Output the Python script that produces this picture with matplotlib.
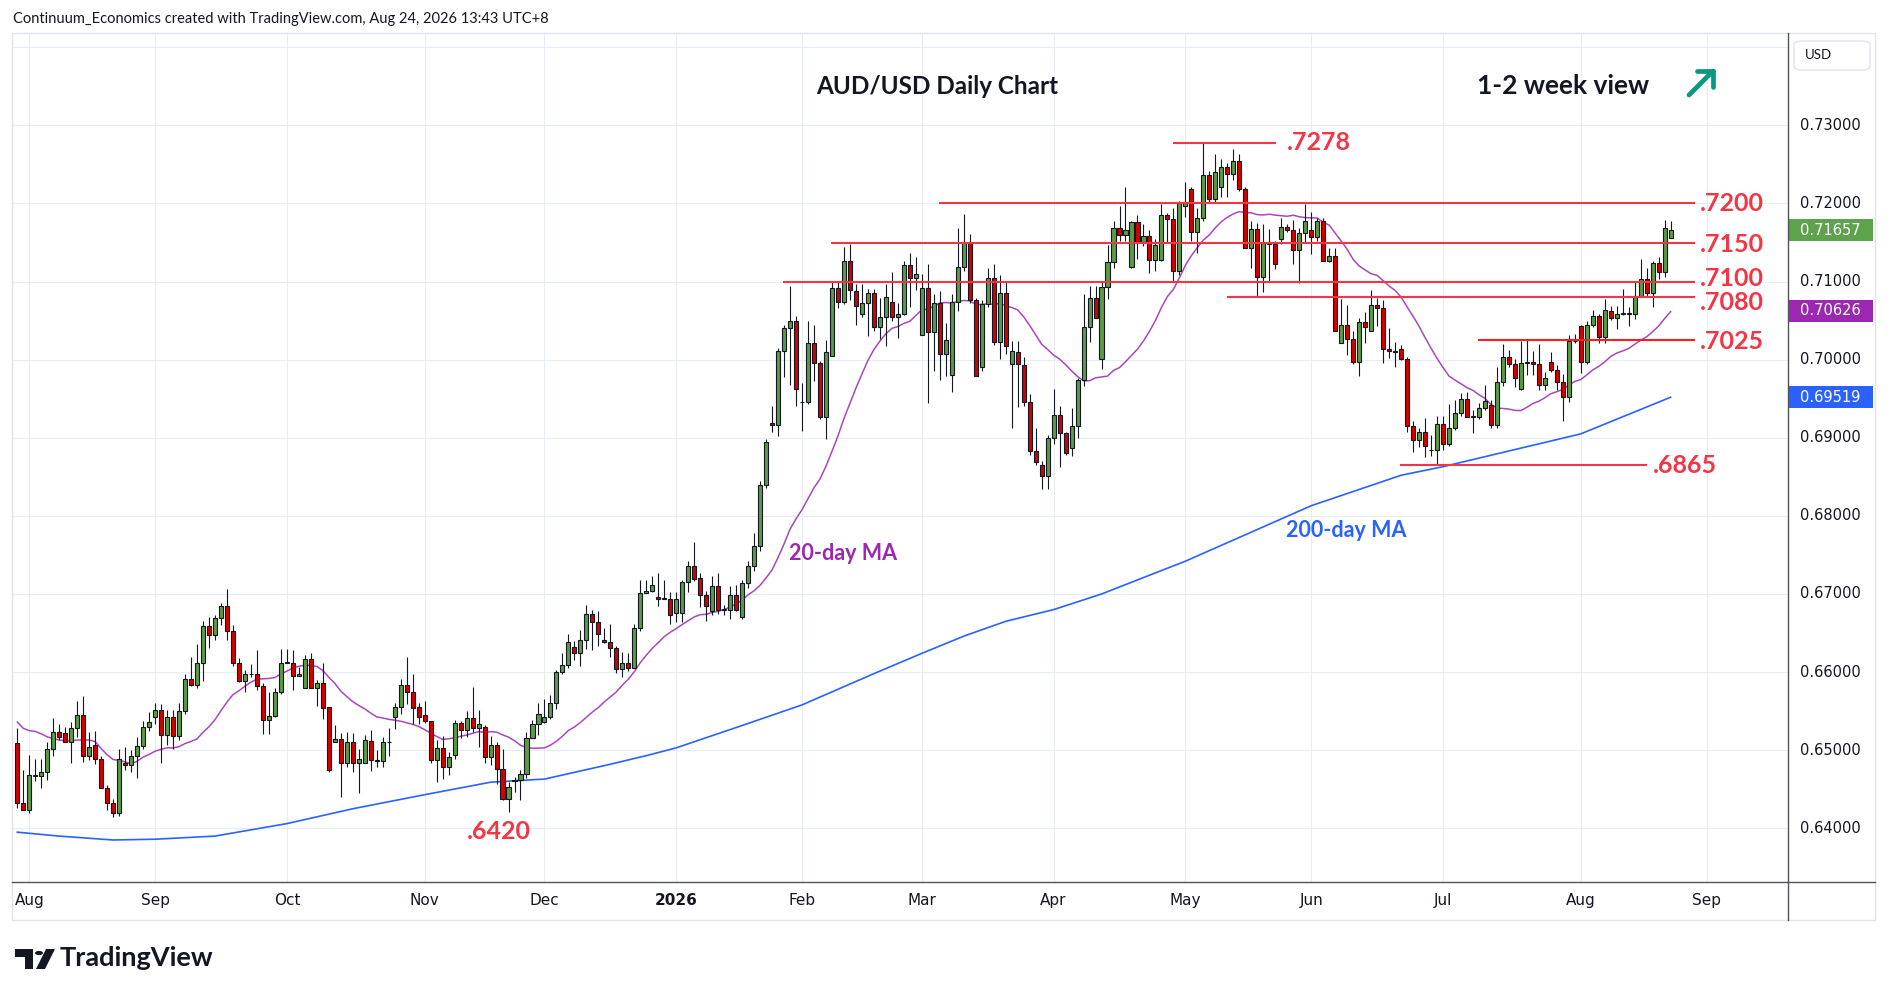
import numpy as np
import pandas as pd
import matplotlib
matplotlib.use("Agg")
import matplotlib.pyplot as plt
from matplotlib.patches import Rectangle, FancyBboxPatch, Polygon, Circle
from matplotlib.lines import Line2D

plt.rcParams['font.family'] = ['Lato', 'DejaVu Sans']

W, H = 1888, 996

# AUD/USD daily candles, 30 Jul 2025 .. 24 Aug 2026
first_day = '2025-07-30'
last_day = '2026-08-24'
holidays = ['2025-12-25', '2026-01-01']

opens = [
    0.6509, 0.6433,
    0.6424, 0.6467, 0.6467, 0.6472, 0.6502, 0.6523, 0.6522, 0.6511, 0.6529, 0.6545, 0.6492, 0.6507, 0.6489, 0.6452, 0.6433, 0.6420, 0.6484, 0.6481, 0.6493, 0.6505, 0.6530,
    0.6542, 0.6551, 0.6519, 0.6543, 0.6518, 0.6550, 0.6591, 0.6583, 0.6612, 0.6659, 0.6647, 0.6669, 0.6684, 0.6652, 0.6611, 0.6589, 0.6597, 0.6597, 0.6582, 0.6539, 0.6544, 0.6575,
    0.6612, 0.6612, 0.6595, 0.6580, 0.6617, 0.6579, 0.6586, 0.6555, 0.6511, 0.6514, 0.6484, 0.6511, 0.6483, 0.6483, 0.6512, 0.6487, 0.6486, 0.6510, 0.6542, 0.6555, 0.6584, 0.6574, 0.6555,
    0.6545, 0.6537, 0.6488, 0.6503, 0.6478, 0.6494, 0.6535, 0.6526, 0.6541, 0.6528, 0.6530, 0.6491, 0.6507, 0.6476, 0.6438, 0.6461, 0.6462, 0.6469, 0.6516, 0.6533,
    0.6536, 0.6542, 0.6561, 0.6600, 0.6609, 0.6632, 0.6624, 0.6641, 0.6674, 0.6664, 0.6641, 0.6638, 0.6631, 0.6604, 0.6611, 0.6605, 0.6656, 0.6701, 0.6704, 0.6696, 0.6694, 0.6694,
    0.6676, 0.6676, 0.6715, 0.6736, 0.6721, 0.6699, 0.6678, 0.6710, 0.6680, 0.6680, 0.6699, 0.6671, 0.6714, 0.6736, 0.6762, 0.6839, 0.6919, 0.6916, 0.7011, 0.7041, 0.7049,
    0.6946, 0.6946, 0.7021, 0.6996, 0.6926, 0.7005, 0.7092, 0.7074, 0.7126, 0.7088, 0.7059, 0.7072, 0.7086, 0.7042, 0.7055, 0.7074, 0.7055, 0.7058, 0.7121, 0.7104,
    0.7032, 0.7092, 0.7035, 0.7073, 0.7007, 0.6981, 0.7074, 0.7119, 0.7151, 0.7077, 0.6990, 0.7071, 0.7104, 0.7023, 0.7086, 0.6995, 0.7010, 0.6993, 0.6946, 0.6883, 0.6865, 0.6851,
    0.6900, 0.6929, 0.6906, 0.6887, 0.6915, 0.6974, 0.7042, 0.7079, 0.7001, 0.7093, 0.7125, 0.7168, 0.7160, 0.7119, 0.7176, 0.7151, 0.7159, 0.7128, 0.7128, 0.7185, 0.7180, 0.7114,
    0.7197, 0.7219, 0.7164, 0.7181, 0.7236, 0.7206, 0.7221, 0.7247, 0.7238, 0.7255, 0.7219, 0.7143, 0.7167, 0.7106, 0.7150, 0.7148, 0.7154, 0.7170, 0.7166, 0.7140, 0.7162,
    0.7166, 0.7157, 0.7178, 0.7126, 0.7133, 0.7022, 0.7044, 0.7026, 0.6997, 0.7048, 0.7037, 0.7070, 0.7066, 0.7014, 0.7011, 0.7014, 0.7001, 0.6915, 0.6897, 0.6908, 0.6884, 0.6884,
    0.6918, 0.6892, 0.6913, 0.6932, 0.6950, 0.6927, 0.6927, 0.6938, 0.6942, 0.6917, 0.6971, 0.7004, 0.6995, 0.6963, 0.6996, 0.6997, 0.6995, 0.6967, 0.6997, 0.6987, 0.6971, 0.6952, 0.7024,
    0.7043, 0.6997, 0.7045, 0.7056, 0.7029, 0.7062, 0.7053, 0.7059, 0.7060, 0.7058, 0.7081, 0.7103, 0.7085, 0.7124, 0.7112, 0.7156,
]
highs = [
    0.6528, 0.6475,
    0.6494, 0.6489, 0.6489, 0.6510, 0.6541, 0.6534, 0.6530, 0.6536, 0.6563, 0.6569, 0.6523, 0.6525, 0.6492, 0.6456, 0.6437, 0.6501, 0.6504, 0.6500, 0.6517, 0.6537, 0.6549,
    0.6560, 0.6559, 0.6551, 0.6551, 0.6560, 0.6598, 0.6619, 0.6636, 0.6665, 0.6670, 0.6673, 0.6688, 0.6707, 0.6660, 0.6618, 0.6603, 0.6610, 0.6628, 0.6586, 0.6575, 0.6580, 0.6629,
    0.6629, 0.6628, 0.6607, 0.6622, 0.6624, 0.6590, 0.6612, 0.6555, 0.6532, 0.6522, 0.6523, 0.6522, 0.6502, 0.6519, 0.6526, 0.6500, 0.6517, 0.6529, 0.6560, 0.6591, 0.6619, 0.6598, 0.6560,
    0.6563, 0.6537, 0.6513, 0.6518, 0.6498, 0.6539, 0.6538, 0.6550, 0.6581, 0.6551, 0.6532, 0.6518, 0.6511, 0.6502, 0.6459, 0.6466, 0.6475, 0.6523, 0.6539, 0.6560,
    0.6566, 0.6571, 0.6603, 0.6624, 0.6649, 0.6640, 0.6654, 0.6686, 0.6680, 0.6678, 0.6656, 0.6662, 0.6633, 0.6626, 0.6625, 0.6661, 0.6718, 0.6718, 0.6723, 0.6727, 0.6718, 0.6703,
    0.6703, 0.6718, 0.6742, 0.6767, 0.6727, 0.6704, 0.6723, 0.6727, 0.6686, 0.6710, 0.6711, 0.6718, 0.6742, 0.6778, 0.6845, 0.6899, 0.6941, 0.7015, 0.7045, 0.7094, 0.7056,
    0.6970, 0.7050, 0.7044, 0.6998, 0.7025, 0.7099, 0.7099, 0.7144, 0.7148, 0.7097, 0.7097, 0.7090, 0.7090, 0.7079, 0.7097, 0.7112, 0.7073, 0.7126, 0.7136, 0.7132,
    0.7110, 0.7123, 0.7084, 0.7088, 0.7047, 0.7084, 0.7168, 0.7186, 0.7161, 0.7079, 0.7077, 0.7118, 0.7123, 0.7109, 0.7099, 0.7024, 0.7024, 0.7003, 0.6956, 0.6912, 0.6870, 0.6903,
    0.6963, 0.6941, 0.6908, 0.6938, 0.6977, 0.7084, 0.7094, 0.7094, 0.7100, 0.7147, 0.7177, 0.7197, 0.7221, 0.7177, 0.7185, 0.7174, 0.7166, 0.7154, 0.7199, 0.7188, 0.7194, 0.7203,
    0.7227, 0.7221, 0.7194, 0.7278, 0.7241, 0.7263, 0.7257, 0.7252, 0.7270, 0.7263, 0.7221, 0.7177, 0.7175, 0.7174, 0.7167, 0.7152, 0.7182, 0.7174, 0.7179, 0.7169, 0.7199,
    0.7189, 0.7182, 0.7181, 0.7143, 0.7143, 0.7078, 0.7070, 0.7037, 0.7054, 0.7061, 0.7089, 0.7079, 0.7077, 0.7041, 0.7023, 0.7019, 0.7004, 0.6922, 0.6913, 0.6925, 0.6903, 0.6928,
    0.6928, 0.6943, 0.6948, 0.6957, 0.6959, 0.6935, 0.6945, 0.6968, 0.6948, 0.6991, 0.7020, 0.7012, 0.7001, 0.7024, 0.7026, 0.7011, 0.7020, 0.6984, 0.7010, 0.6993, 0.6982, 0.7032, 0.7033,
    0.7044, 0.7050, 0.7064, 0.7059, 0.7078, 0.7069, 0.7069, 0.7090, 0.7068, 0.7100, 0.7129, 0.7118, 0.7127, 0.7131, 0.7179, 0.7177,
]
lows = [
    0.6426, 0.6423,
    0.6419, 0.6460, 0.6451, 0.6462, 0.6492, 0.6513, 0.6511, 0.6483, 0.6517, 0.6485, 0.6488, 0.6482, 0.6451, 0.6424, 0.6415, 0.6416, 0.6475, 0.6472, 0.6464, 0.6501, 0.6524,
    0.6534, 0.6484, 0.6507, 0.6502, 0.6513, 0.6546, 0.6582, 0.6579, 0.6589, 0.6631, 0.6641, 0.6660, 0.6641, 0.6608, 0.6587, 0.6575, 0.6594, 0.6577, 0.6521, 0.6521, 0.6543, 0.6572,
    0.6611, 0.6577, 0.6595, 0.6580, 0.6579, 0.6557, 0.6540, 0.6472, 0.6511, 0.6440, 0.6479, 0.6472, 0.6445, 0.6483, 0.6473, 0.6478, 0.6478, 0.6493, 0.6527, 0.6546, 0.6559, 0.6533, 0.6534,
    0.6535, 0.6483, 0.6459, 0.6463, 0.6468, 0.6489, 0.6515, 0.6517, 0.6523, 0.6504, 0.6483, 0.6481, 0.6457, 0.6436, 0.6421, 0.6446, 0.6436, 0.6464, 0.6515, 0.6520,
    0.6535, 0.6540, 0.6553, 0.6598, 0.6605, 0.6616, 0.6608, 0.6630, 0.6628, 0.6634, 0.6637, 0.6619, 0.6599, 0.6594, 0.6601, 0.6605, 0.6652, 0.6701, 0.6703, 0.6684, 0.6693, 0.6661,
    0.6664, 0.6664, 0.6703, 0.6716, 0.6683, 0.6665, 0.6673, 0.6674, 0.6673, 0.6668, 0.6678, 0.6668, 0.6708, 0.6729, 0.6755, 0.6836, 0.6907, 0.6902, 0.6978, 0.6968, 0.6941,
    0.6909, 0.6943, 0.6973, 0.6924, 0.6899, 0.7005, 0.7066, 0.7071, 0.7077, 0.7044, 0.7055, 0.7030, 0.7037, 0.7026, 0.7017, 0.7050, 0.7028, 0.7057, 0.7068, 0.7089,
    0.7032, 0.6945, 0.6986, 0.6974, 0.6979, 0.6958, 0.7062, 0.7114, 0.7073, 0.6979, 0.6986, 0.7068, 0.7019, 0.7001, 0.7007, 0.6912, 0.6939, 0.6941, 0.6878, 0.6865, 0.6835, 0.6835,
    0.6892, 0.6862, 0.6878, 0.6877, 0.6900, 0.6966, 0.7023, 0.7053, 0.6988, 0.7078, 0.7117, 0.7152, 0.7152, 0.7117, 0.7129, 0.7145, 0.7111, 0.7114, 0.7126, 0.7150, 0.7101, 0.7108,
    0.7183, 0.7152, 0.7136, 0.7177, 0.7201, 0.7200, 0.7208, 0.7208, 0.7230, 0.7216, 0.7143, 0.7118, 0.7080, 0.7087, 0.7100, 0.7116, 0.7148, 0.7163, 0.7123, 0.7098, 0.7149,
    0.7135, 0.7152, 0.7126, 0.7125, 0.7037, 0.7021, 0.7006, 0.6995, 0.6979, 0.7021, 0.7037, 0.7043, 0.6996, 0.7002, 0.6991, 0.7000, 0.6908, 0.6882, 0.6888, 0.6876, 0.6877, 0.6865,
    0.6884, 0.6890, 0.6910, 0.6928, 0.6926, 0.6906, 0.6924, 0.6936, 0.6913, 0.6912, 0.6966, 0.6991, 0.6965, 0.6961, 0.6980, 0.6980, 0.6961, 0.6961, 0.6984, 0.6961, 0.6921, 0.6946, 0.7021,
    0.6983, 0.6995, 0.7042, 0.7021, 0.7021, 0.7051, 0.7039, 0.7057, 0.7043, 0.7052, 0.7081, 0.7082, 0.7067, 0.7103, 0.7106, 0.7156,
]
closes = [
    0.6433, 0.6424,
    0.6468, 0.6468, 0.6472, 0.6502, 0.6523, 0.6517, 0.6511, 0.6529, 0.6545, 0.6492, 0.6504, 0.6489, 0.6452, 0.6433, 0.6420, 0.6489, 0.6481, 0.6493, 0.6505, 0.6530, 0.6536,
    0.6551, 0.6519, 0.6543, 0.6518, 0.6550, 0.6591, 0.6583, 0.6612, 0.6659, 0.6647, 0.6669, 0.6684, 0.6652, 0.6611, 0.6589, 0.6597, 0.6597, 0.6582, 0.6539, 0.6544, 0.6575, 0.6612,
    0.6613, 0.6595, 0.6598, 0.6617, 0.6579, 0.6586, 0.6554, 0.6474, 0.6514, 0.6484, 0.6511, 0.6483, 0.6489, 0.6513, 0.6487, 0.6486, 0.6510, 0.6510, 0.6555, 0.6584, 0.6574, 0.6554, 0.6542,
    0.6537, 0.6488, 0.6503, 0.6478, 0.6491, 0.6535, 0.6526, 0.6541, 0.6528, 0.6534, 0.6491, 0.6507, 0.6476, 0.6438, 0.6453, 0.6462, 0.6469, 0.6516, 0.6533, 0.6546,
    0.6542, 0.6561, 0.6600, 0.6609, 0.6638, 0.6624, 0.6641, 0.6674, 0.6664, 0.6649, 0.6638, 0.6631, 0.6604, 0.6611, 0.6605, 0.6656, 0.6701, 0.6704, 0.6711, 0.6693, 0.6694, 0.6673,
    0.6693, 0.6715, 0.6736, 0.6719, 0.6699, 0.6684, 0.6710, 0.6680, 0.6681, 0.6699, 0.6680, 0.6714, 0.6736, 0.6762, 0.6839, 0.6894, 0.6916, 0.7011, 0.7041, 0.7049, 0.6962,
    0.6946, 0.7021, 0.6996, 0.6926, 0.7010, 0.7092, 0.7074, 0.7126, 0.7089, 0.7069, 0.7072, 0.7086, 0.7042, 0.7055, 0.7080, 0.7055, 0.7058, 0.7121, 0.7104, 0.7110,
    0.7092, 0.7035, 0.7073, 0.7007, 0.7025, 0.7074, 0.7119, 0.7151, 0.7077, 0.6979, 0.7071, 0.7104, 0.7023, 0.7086, 0.7018, 0.7011, 0.6994, 0.6946, 0.6883, 0.6869, 0.6851, 0.6900,
    0.6929, 0.6906, 0.6881, 0.6915, 0.6974, 0.7042, 0.7079, 0.7054, 0.7093, 0.7125, 0.7168, 0.7160, 0.7166, 0.7176, 0.7151, 0.7159, 0.7128, 0.7147, 0.7185, 0.7180, 0.7114, 0.7200,
    0.7200, 0.7164, 0.7181, 0.7236, 0.7206, 0.7240, 0.7247, 0.7238, 0.7255, 0.7219, 0.7143, 0.7167, 0.7106, 0.7150, 0.7148, 0.7123, 0.7170, 0.7166, 0.7140, 0.7162, 0.7178,
    0.7157, 0.7178, 0.7126, 0.7133, 0.7037, 0.7044, 0.7026, 0.6997, 0.7048, 0.7042, 0.7070, 0.7066, 0.7014, 0.7011, 0.7010, 0.7001, 0.6915, 0.6897, 0.6908, 0.6889, 0.6884, 0.6918,
    0.6892, 0.6913, 0.6932, 0.6950, 0.6927, 0.6927, 0.6938, 0.6947, 0.6917, 0.6971, 0.7004, 0.6995, 0.6977, 0.6996, 0.6997, 0.6995, 0.6967, 0.6977, 0.6987, 0.6971, 0.6952, 0.7024, 0.7024,
    0.6997, 0.7045, 0.7056, 0.7029, 0.7064, 0.7053, 0.7059, 0.7060, 0.7058, 0.7081, 0.7103, 0.7085, 0.7124, 0.7112, 0.7169, 0.71657,
]

# 20-day MA for the first bars (earlier closes are off the chart)
ma20_head = [0.6536, 0.6528, 0.6525, 0.6524, 0.6521, 0.6517, 0.6515, 0.6513, 0.6512, 0.6512,
             0.6513, 0.6513, 0.6513, 0.6511, 0.6502, 0.6494, 0.6488, 0.6487, 0.6485]

# 200-day MA read at a few dates
ma200_dates = ['2025-07-30', '2025-08-08', '2025-08-21', '2025-09-01', '2025-09-15', '2025-10-01',
               '2025-10-16', '2025-11-03', '2025-11-18', '2025-12-01', '2025-12-16', '2025-12-24',
               '2026-01-02', '2026-01-16', '2026-02-02', '2026-02-18', '2026-03-02', '2026-03-11',
               '2026-03-20', '2026-04-01', '2026-04-13', '2026-04-21', '2026-05-01', '2026-06-01',
               '2026-06-22', '2026-07-01', '2026-08-03', '2026-08-24']
ma200_vals = [0.6395, 0.6390, 0.6385, 0.6386, 0.6390, 0.6406,
              0.6425, 0.6443, 0.6459, 0.6463, 0.6482, 0.6493,
              0.6503, 0.6529, 0.6558, 0.6598, 0.6624, 0.6646,
              0.6665, 0.6680, 0.6700, 0.6718, 0.6742, 0.6813,
              0.6852, 0.6863, 0.6905, 0.69519]

levels = [0.7278, 0.7200, 0.7150, 0.7100, 0.7080, 0.7025, 0.6865]
level_text = ['.7278', '.7200', '.7150', '.7100', '.7080', '.7025', '.6865']
low_text = '.6420'
axis_prices = [0.64, 0.65, 0.66, 0.67, 0.68, 0.69, 0.70, 0.71, 0.72, 0.73]
tag_text = ['0.71657', '0.70626', '0.69519']

# ---------------------------------------------------------------
dates = pd.bdate_range(first_day, last_day)
dates = dates[~dates.isin(pd.to_datetime(holidays))]
all_days = pd.bdate_range(first_day, '2026-09-30')
all_days = all_days[~all_days.isin(pd.to_datetime(holidays))]
n = len(closes)
assert len(dates) == n == len(opens) == len(highs) == len(lows)

x = np.arange(n)
o = np.array(opens); hi = np.array(highs); lo = np.array(lows); c = np.array(closes)

ma20 = pd.Series(c).rolling(20).mean().values
ma20[:len(ma20_head)] = ma20_head
x200 = [all_days.get_loc(pd.Timestamp(d)) for d in ma200_dates]

def fx(px):
    return px / W

def fy(py):
    return 1 - py / H

fig = plt.figure(figsize=(W / 100, H / 100), dpi=100)
fig.patch.set_facecolor('white')
ax = fig.add_axes([fx(12), fy(881.7), (1788 - 12) / W, (881.7 - 33) / H])
ax.set_xlim(-0.89, 295.6)
ax.set_ylim(0.63316, 0.74183)
for s in ax.spines.values():
    s.set_visible(False)
ax.set_xticks([])
ax.set_yticks([])

grid_c = '#e8edf4'
for p in np.arange(0.64, 0.745, 0.01):
    ax.axhline(p, color=grid_c, lw=0.8, zorder=0)

# month ticks
month_pos = []
month_lab = []
prev = None
for i, d in enumerate(all_days):
    key = (d.year, d.month)
    if prev is not None and key != prev:
        month_pos.append(i)
        month_lab.append('2026' if (d.year == 2026 and d.month == 1) else d.strftime('%b'))
    prev = key
for p, lab in zip(month_pos, month_lab):
    ax.axvline(p, color=grid_c, lw=0.8, zorder=0)
    ax.text(p, -0.0227, lab, transform=ax.get_xaxis_transform(), ha='center', va='center',
            fontsize=11, color='#131722', fontweight='bold' if lab == '2026' else 'normal',
            family=['DejaVu Sans'])

# moving averages
ax.plot(x, ma20, color='#ab47bc', lw=1.1, zorder=2)
ax.plot(x200, ma200_vals, color='#2962ff', lw=1.2, zorder=2)

# candles
up = c >= o
body_col = np.where(up, '#5b9b45', '#d30000')
ax.vlines(x, lo, hi, color='#131722', lw=0.8, zorder=3)
ax.bar(x, np.maximum(np.abs(c - o), 0.00003), bottom=np.minimum(o, c), width=0.68,
       color=body_col, edgecolor='#131722', linewidth=0.8, zorder=4)

# support / resistance levels
spans = [(192.9, 210.1), (153.9, 280.1), (135.8, 280.1), (127.9, 280.1),
         (201.9, 280.1), (243.9, 280.1), (230.9, 272.1)]
lab_x = [211.9, 280.9, 280.9, 280.9, 280.9, 280.9, 273.0]
lab_dy = [0, 0, -0.0002, 0.0004, -0.0007, -0.0002, 0]
for lev, (a, b), lx, dy, t in zip(levels, spans, lab_x, lab_dy, level_text):
    col = '#ff1c1c' if t == '.7025' else '#f23645'
    ax.hlines(lev, a, b, color=col, lw=1.5, zorder=5)
    ax.text(lx, lev + dy, t, color='#f23645', fontsize=18, fontweight='bold',
            ha='left', va='center', zorder=6)
ax.text(80.4, 0.6396, low_text, color='#f23645', fontsize=18, fontweight='bold',
        ha='center', va='center')

ax.text(137.9, 0.6752, '20-day MA', color='#9c27b0', fontsize=15.5, fontweight='bold',
        ha='center', va='center')
ax.text(221.9, 0.6781, '200-day MA', color='#2962ff', fontsize=15.5, fontweight='bold',
        ha='center', va='center')

# price scale
ytr = ax.get_yaxis_transform()
for p in axis_prices:
    ax.text(1.00676, p, f'{p:.5f}', transform=ytr, ha='left', va='center', fontsize=10.5,
            color='#131722', family=['DejaVu Sans'], clip_on=False)
tag_cols = ['#5ea24d', '#9c27b0', '#2962ff']
for t, col in zip(tag_text, tag_cols):
    p = float(t)
    ax.add_patch(Rectangle((1.0006, p - 0.0014), 0.0473, 0.0028, transform=ytr,
                           facecolor=col, edgecolor='none', clip_on=False, zorder=7))
    ax.text(1.00676, p, t, transform=ytr, ha='left', va='center', fontsize=10.5,
            color='white', family=['DejaVu Sans'], clip_on=False, zorder=8)

# frame and axis lines
frame_c = '#e0e3eb'
axis_c = '#50535e'
fig.add_artist(Rectangle((fx(12), fy(920)), (1875 - 12) / W, (920 - 33) / H,
                         transform=fig.transFigure, fill=False, edgecolor=frame_c, lw=1.0))
fig.add_artist(Line2D([fx(12), fx(1875)], [fy(881.7), fy(881.7)], transform=fig.transFigure,
                      color=axis_c, lw=1.0))
fig.add_artist(Line2D([fx(1788), fx(1788)], [fy(33), fy(920)], transform=fig.transFigure,
                      color=axis_c, lw=1.0))

# USD box
fig.add_artist(FancyBboxPatch((fx(1794), fy(70)), (1870 - 1794) / W, (70 - 41) / H,
                              boxstyle='round,pad=0,rounding_size=0.004', transform=fig.transFigure,
                              facecolor='white', edgecolor=frame_c, lw=1.0))
fig.text(fx(1805), fy(55), 'USD', fontsize=9.5, color='#131722', va='center', ha='left')

# titles
fig.text(fx(13), fy(19), 'Continuum_Economics created with TradingView.com, Aug 24, 2026 13:43 UTC+8',
         fontsize=10.5, color='#131722', va='center', ha='left')
fig.text(fx(937), fy(86), 'AUD/USD Daily Chart', fontsize=17.5, fontweight='bold',
         color='#131722', ha='center', va='center')
fig.text(fx(1563), fy(86), '1-2 week view', fontsize=19, fontweight='bold',
         color='#131722', ha='center', va='center')

# up arrow
arrow_c = '#089981'
for xs, ys in [((1689, 1713), (95, 71)), ((1697, 1713), (71, 71)), ((1713, 1713), (71, 87))]:
    fig.add_artist(Line2D([fx(xs[0]), fx(xs[1])], [fy(ys[0]), fy(ys[1])], transform=fig.transFigure,
                          color=arrow_c, lw=3.4, solid_capstyle='round'))

# TradingView logo
fig.add_artist(Polygon([(fx(15), fy(949)), (fx(33), fy(949)), (fx(33), fy(969)), (fx(25), fy(969)),
                        (fx(25), fy(957)), (fx(15), fy(957))], closed=True,
                       transform=fig.transFigure, facecolor='#131722', edgecolor='none'))
fig.add_artist(Circle((fx(39), fy(953)), 4 / W, transform=fig.transFigure,
                      facecolor='#131722', edgecolor='none'))
fig.add_artist(Polygon([(fx(46), fy(949)), (fx(55), fy(949)), (fx(45), fy(969)), (fx(36), fy(969))],
                       closed=True, transform=fig.transFigure, facecolor='#131722', edgecolor='none'))
fig.text(fx(60), fy(958), 'TradingView', fontsize=19.5, fontweight='bold', color='#131722',
         ha='left', va='center')

fig.savefig('out.png', dpi=100, facecolor='white')
